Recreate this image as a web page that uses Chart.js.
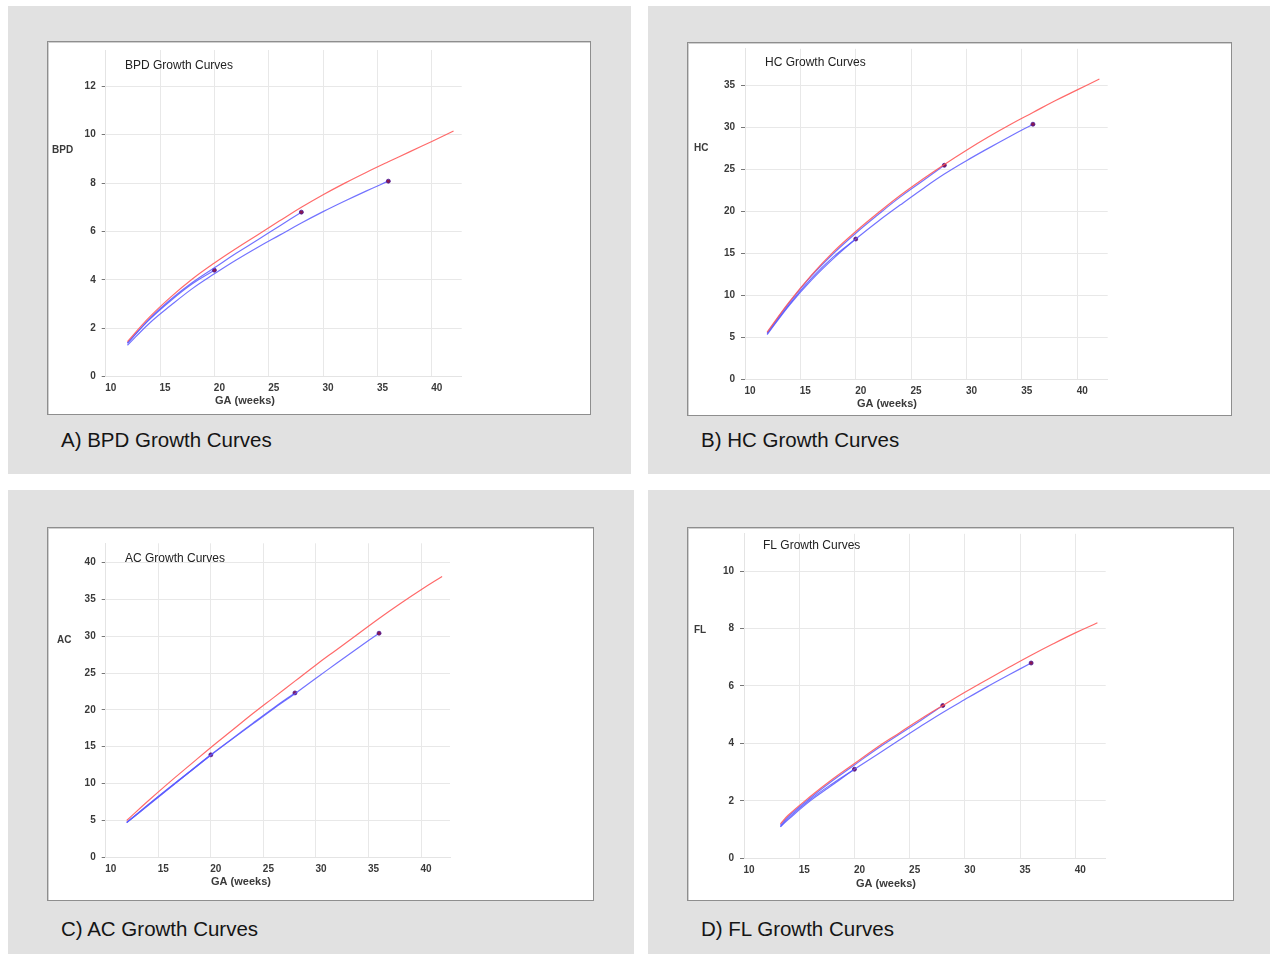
<!DOCTYPE html>
<html>
<head>
<meta charset="utf-8">
<script src="https://cdn.jsdelivr.net/npm/chart.js@4.4.1/dist/chart.umd.min.js"></script>
<style>
    body { margin: 0; background: #fff; width: 1270px; height: 954px; position: relative; overflow: hidden; }
    .panel { position: absolute; background: #e1e1e1; }
    .box { position: absolute; background: #fff; border: 1px solid #8e8e8e; box-shadow: inset 1px 1px 0 #d0d0d0; }
    .box canvas { position: absolute; left: 1px; top: 1px; }
    .caption { position: absolute; font-family: "Liberation Sans", Arial, sans-serif; font-size: 20.5px; color: #151515; line-height: 20px; }
</style>
</head>
<body>
<div class="panel" style="left:8px;top:6px;width:623px;height:468px"></div>
<div class="panel" style="left:648px;top:6px;width:622px;height:468px"></div>
<div class="panel" style="left:8px;top:490px;width:626px;height:464px"></div>
<div class="panel" style="left:648px;top:490px;width:622px;height:464px"></div>

<div class="box" id="boxA" style="left:47px;top:41px;width:542px;height:372px"><canvas id="chartA"></canvas></div>
<div class="box" id="boxB" style="left:687px;top:42px;width:543px;height:372px"><canvas id="chartB"></canvas></div>
<div class="box" id="boxC" style="left:47px;top:527px;width:545px;height:372px"><canvas id="chartC"></canvas></div>
<div class="box" id="boxD" style="left:687px;top:527px;width:545px;height:372px"><canvas id="chartD"></canvas></div>

<div class="caption" style="left:61px;top:430px">A) BPD Growth Curves</div>
<div class="caption" style="left:701px;top:430px">B) HC Growth Curves</div>
<div class="caption" style="left:61px;top:919px">C) AC Growth Curves</div>
<div class="caption" style="left:701px;top:919px">D) FL Growth Curves</div>

<script>
// x ticks shared by all four charts
const weekTicks = [10, 15, 20, 25, 30, 35, 40];

// gestational age (weeks) for the reference curve and the fitted curves
const refWeeks = [12, 14, 16, 18, 20, 22, 24, 26, 28, 30, 32, 34, 36, 38, 40, 42];
const flWeeks = [13.3, 14, 16, 18, 20, 22, 24, 26, 28, 30, 32, 34, 36, 38, 40, 42];

// BPD
const bpdTicks = [0, 2, 4, 6, 8, 10, 12];
const bpdRef = [1.45, 2.45, 3.3, 4.05, 4.7, 5.3, 5.87, 6.44, 7.0, 7.52, 8.0, 8.45, 8.88, 9.3, 9.72, 10.15];
const bpdTo20 = [1.4, 2.35, 3.15, 3.85, 4.4];
const bpdTo28 = [1.38, 2.38, 3.2, 3.9, 4.5, 5.1, 5.66, 6.23, 6.8];
const bpdTo36 = [1.3, 2.2, 2.95, 3.65, 4.25, 4.82, 5.35, 5.85, 6.35, 6.82, 7.26, 7.68, 8.08];

// HC
const hcTicks = [0, 5, 10, 15, 20, 25, 30, 35];
const hcRef = [5.6, 9.2, 12.4, 15.2, 17.6, 19.8, 21.9, 23.8, 25.6, 27.3, 28.9, 30.4, 31.8, 33.2, 34.5, 35.8];
const hcTo20 = [5.4, 8.9, 12.0, 14.6, 16.7];
const hcTo28 = [5.5, 9.1, 12.3, 15.0, 17.4, 19.6, 21.7, 23.6, 25.5];
const hcTo36 = [5.3, 8.8, 11.8, 14.4, 16.7, 18.8, 20.75, 22.65, 24.45, 26.05, 27.55, 29.0, 30.4];

// AC
const acTicks = [0, 5, 10, 15, 20, 25, 30, 35, 40];
const acRef = [5.0, 7.6, 10.1, 12.5, 14.9, 17.2, 19.5, 21.7, 23.9, 26.1, 28.2, 30.3, 32.4, 34.4, 36.3, 38.1];
const acTo20 = [4.7, 7.0, 9.3, 11.6, 13.9];
const acTo28 = [4.75, 7.1, 9.4, 11.65, 13.9, 16.05, 18.2, 20.3, 22.3];
const acTo36 = [4.7, 7.05, 9.35, 11.6, 13.85, 16.0, 18.1, 20.2, 22.2, 24.3, 26.35, 28.4, 30.4];

// FL
const flTicks = [0, 2, 4, 6, 8, 10];
const flRef = [1.2, 1.5, 2.15, 2.75, 3.3, 3.85, 4.35, 4.85, 5.32, 5.78, 6.22, 6.65, 7.07, 7.47, 7.85, 8.2];
const flTo20 = [1.1, 1.4, 2.05, 2.6, 3.1];
const flTo28 = [1.15, 1.45, 2.1, 2.7, 3.25, 3.8, 4.3, 4.8, 5.32];
const flTo36 = [1.1, 1.35, 2.0, 2.55, 3.1, 3.6, 4.1, 4.6, 5.08, 5.53, 5.97, 6.39, 6.8];

const tickFont = { family: "'Liberation Sans', Arial, sans-serif", size: 10, weight: 'bold' };

function toPoints(weeks, values)
{
    return values.map((v, i) => ({ x: weeks[i], y: v }));
}

function curve(weeks, values, color, withDot)
{
    return {
        data: toPoints(weeks, values),
        showLine: true,
        borderColor: color,
        borderWidth: 1.2,
        tension: 0.4,
        pointRadius: values.map((v, i) => (withDot && i === values.length - 1) ? 2 : 0),
        pointBackgroundColor: '#8a1850',
        pointBorderColor: '#4a1a9a',
        pointBorderWidth: 0.8
    };
}

// draws the small title and the axis names at fixed spots
const textPlugin = {
    id: 'panelText',
    afterDraw(chart, args, opts)
    {
        const ctx = chart.ctx;
        ctx.save();
        ctx.fillStyle = '#222';
        ctx.textBaseline = 'middle';
        ctx.font = "12px 'Liberation Sans', Arial, sans-serif";
        ctx.textAlign = 'left';
        ctx.fillText(opts.title, opts.titleAt[0], opts.titleAt[1]);
        ctx.font = "bold 10px 'Liberation Sans', Arial, sans-serif";
        ctx.fillStyle = '#3a3a3a';
        ctx.fillText(opts.yName, opts.yNameAt[0], opts.yNameAt[1]);
        ctx.font = "bold 11px 'Liberation Sans', Arial, sans-serif";
        ctx.textAlign = 'center';
        ctx.fillText('GA (weeks)', opts.xNameAt[0], opts.xNameAt[1]);
        ctx.restore();
    }
};

const Y_W = 40;
const X_H = 24;

function makeChart(id, p)
{
    const box = document.getElementById(p.box);
    const canvas = document.getElementById(id);
    const cx = box.offsetLeft + 2;
    const cy = box.offsetTop + 2;
    const w = box.clientWidth;
    const h = box.clientHeight;
    canvas.width = w;
    canvas.height = h;

    const area = p.area; // page coordinates: left, top, right, bottom
    const padding = {
        left: area[0] - cx - Y_W,
        top: area[1] - cy,
        right: cx + w - area[2],
        bottom: cy + h - area[3] - X_H
    };

    const rel = pt => [pt[0] - cx, pt[1] - cy];

    return new Chart(canvas, {
        type: 'scatter',
        data: {
            datasets: [
                curve(p.refX, p.ref, 'rgba(255, 90, 90, 0.9)', false),
                curve(p.fitX, p.to36, 'rgba(90, 90, 255, 0.85)', true),
                curve(p.fitX, p.to28, 'rgba(90, 90, 255, 0.85)', true),
                curve(p.fitX, p.to20, 'rgba(90, 90, 255, 0.85)', true)
            ]
        },
        options: {
            responsive: false,
            animation: false,
            devicePixelRatio: 1,
            layout: { padding: padding },
            plugins: {
                legend: { display: false },
                tooltip: { enabled: false },
                panelText: {
                    title: p.title,
                    titleAt: rel(p.titleAt),
                    yName: p.yName,
                    yNameAt: rel(p.yNameAt),
                    xNameAt: rel(p.xNameAt)
                }
            },
            scales: {
                x: {
                    type: 'linear',
                    min: 10,
                    max: 42.75,
                    afterBuildTicks: scale => { scale.ticks = weekTicks.map(v => ({ value: v })); },
                    afterFit: scale =>
                    {
                        scale.height = X_H;
                        scale.paddingLeft = 0; scale.paddingRight = 0;
                    },
                    grid: { color: '#e8e8e8', drawTicks: false },
                    border: { color: '#e4e4e4' },
                    ticks: { font: tickFont, color: '#3a3a3a', padding: 6, labelOffset: 5, maxRotation: 0, autoSkip: false }
                },
                y: {
                    type: 'linear',
                    min: 0,
                    max: p.yMax,
                    afterBuildTicks: scale => { scale.ticks = p.yTicks.map(v => ({ value: v })); },
                    afterFit: scale =>
                    {
                        scale.width = Y_W;
                        scale.paddingTop = 0; scale.paddingBottom = 0;
                    },
                    grid: { color: '#e8e8e8', drawTicks: true, tickLength: 4, tickColor: '#777' },
                    border: { color: '#e4e4e4' },
                    ticks: { font: tickFont, color: '#3a3a3a', padding: 6, autoSkip: false }
                }
            }
        },
        plugins: [textPlugin]
    });
}

const fitWeeks = refWeeks.slice(0, 13);
const flFitWeeks = flWeeks.slice(0, 13);

makeChart('chartA', {
    box: 'boxA', area: [105.7, 50, 461.7, 376.7], yMax: 13.5, yTicks: bpdTicks,
    refX: refWeeks, ref: bpdRef, fitX: fitWeeks, to20: bpdTo20, to28: bpdTo28, to36: bpdTo36,
    title: 'BPD Growth Curves', titleAt: [125, 66], yName: 'BPD', yNameAt: [52, 150], xNameAt: [245, 401]
});
makeChart('chartB', {
    box: 'boxB', area: [745, 46.7, 1107.7, 379], yMax: 39.4, yTicks: hcTicks,
    refX: refWeeks, ref: hcRef, fitX: fitWeeks, to20: hcTo20, to28: hcTo28, to36: hcTo36,
    title: 'HC Growth Curves', titleAt: [765, 63], yName: 'HC', yNameAt: [694, 148], xNameAt: [887, 404]
});
makeChart('chartC', {
    box: 'boxC', area: [105.7, 543.3, 450, 857.3], yMax: 42.6, yTicks: acTicks,
    refX: refWeeks, ref: acRef, fitX: fitWeeks, to20: acTo20, to28: acTo28, to36: acTo36,
    title: 'AC Growth Curves', titleAt: [125, 559], yName: 'AC', yNameAt: [57, 640], xNameAt: [241, 882]
});
makeChart('chartD', {
    box: 'boxD', area: [744, 531.7, 1105.7, 858.3], yMax: 11.3, yTicks: flTicks,
    refX: flWeeks, ref: flRef, fitX: flFitWeeks, to20: flTo20, to28: flTo28, to36: flTo36,
    title: 'FL Growth Curves', titleAt: [763, 546], yName: 'FL', yNameAt: [694, 630], xNameAt: [886, 884]
});
</script>
</body>
</html>
